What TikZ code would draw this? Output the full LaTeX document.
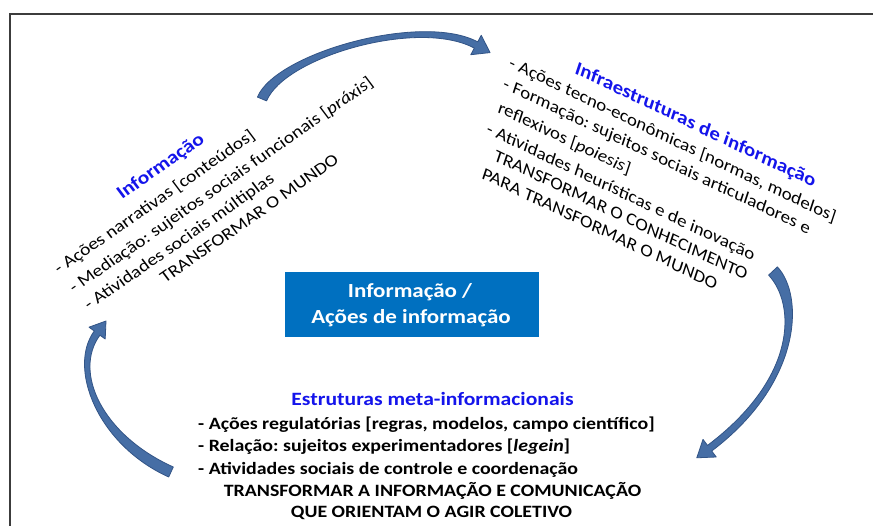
\documentclass[tikz,border=0pt]{standalone}
\usepackage{fontspec}
\setmainfont{Carlito}
\frenchspacing
\definecolor{boxblue}{RGB}{0,112,192}
\definecolor{titleblue}{RGB}{20,20,235}
\definecolor{arrowblue}{RGB}{70,110,165}
\definecolor{arrowedge}{RGB}{50,84,134}
\definecolor{framegray}{RGB}{60,60,60}
\begin{document}
\frenchspacing
\begin{tikzpicture}[x=1pt,y=-1pt,
  frameline/.style={draw=framegray, line width=2pt},
  arrshape/.style={fill=arrowblue, draw=arrowedge, line width=0.8pt, line join=round},
  ltxt/.style={cm={0.944,0.657,-0.6,0.8,(0,0)}, anchor=base west, inner sep=0pt, font=\frenchspacing\fontsize{17}{20}\selectfont},
  lttl/.style={ltxt, font=\bfseries\fontsize{18.6}{22}\selectfont, text=titleblue},
  rtxt/.style={cm={1.038,-0.496,0.316,0.957,(0,0)}, anchor=base west, inner sep=0pt, font=\frenchspacing\fontsize{17}{20}\selectfont},
  rttl/.style={rtxt, font=\bfseries\fontsize{18.6}{22}\selectfont, text=titleblue},
  btxt/.style={xscale=1.15, inner sep=0pt, font=\frenchspacing\bfseries\fontsize{17.3}{20}\selectfont},
  bttl/.style={btxt, font=\bfseries\fontsize{18.8}{22}\selectfont, text=titleblue},
  boxtxt/.style={xscale=1.15, inner sep=0pt, anchor=base, text=white, font=\bfseries\fontsize{20}{24}\selectfont}
]
\useasboundingbox (0,0) rectangle (873,526);
\fill[white] (0,0) rectangle (873,526);
% frame
\draw[frameline] (10,526) -- (10,14) -- (873,14);

% centre box
\node[fill=boxblue, minimum width=254pt, minimum height=65pt, inner sep=0pt] (box) at (412,304.5) {};
\node[boxtxt] (boxt1) at (410,297.3) {Informação /};
\node[boxtxt] (boxt2) at (411,323.3) {Ações de informação};

% left block
\node[lttl] (l0) at (122,200) {Informação};
\node[ltxt] (l1) at (59,275) {- Ações narrativas [conteúdos]};
\node[ltxt] (l2) at (74,294) {- Mediação: sujeitos sociais funcionais [\textit{práxis}]};
\node[ltxt] (l3) at (89,311) {- Atividades sociais múltiplas};
\node[ltxt] (l4) at (165,284) {TRANSFORMAR O MUNDO};

% right block
\node[rttl] (r0) at (574,73) {Infraestruturas de informação};
\node[rtxt] (r1) at (508,67) {- Ações tecno-econômicas [normas, modelos]};
\node[rtxt] (r2) at (502,88) {- Formação: sujeitos sociais articuladores e};
\node[rtxt] (r3) at (497,112) {reflexivos [\textit{poiesis}]};
\node[rtxt] (r4) at (485.5,133) {- Atividades heurísticas e de inovação};
\node[rtxt] (r5) at (493,160) {TRANSFORMAR O CONHECIMENTO};
\node[rtxt] (r6) at (481,178) {PARA TRANSFORMAR O MUNDO};

% bottom block
\node[bttl, anchor=base] (m0) at (432.5,405.7) {Estruturas meta-informacionais};
\node[btxt, anchor=base west] (m1) at (198,429.3) {- Ações regulatórias [regras, modelos, campo científico]};
\node[btxt, anchor=base west] (m2) at (198,451.7) {- Relação: sujeitos experimentadores [\textit{legein}]};
\node[btxt, anchor=base west] (m3) at (198,474) {- Atividades sociais de controle e coordenação};
\node[btxt, anchor=base] (m4) at (432.5,496.7) {TRANSFORMAR A INFORMAÇÃO E COMUNICAÇÃO};
\node[btxt, anchor=base] (m5) at (431.5,517) {QUE ORIENTAM O AGIR COLETIVO};

% curved block arrows (tapered body + head)
% top: Informação -> Infraestruturas
\coordinate (a1tail) at (262,99);
\coordinate (a1tip) at (490.1,52.6);
\draw[arrshape] (257.4,97.1) .. controls (275.4,53.1) and (421.7,11.9) .. (477.7,41.9)
  -- (481.2,35.3) -- (a1tip) -- (470.8,54.7) -- (474.3,48.1)
  .. controls (418.3,18.1) and (284.6,56.9) .. (266.6,100.9) -- cycle;
% right: Infraestruturas -> Estruturas meta-informacionais
\coordinate (a2tail) at (773,271);
\coordinate (a2tip) at (696.8,457.8);
\draw[arrshape] (777.4,266.9) .. controls (804.4,295.9) and (802.1,382.8) .. (711.7,451.0)
  -- (716.2,457.0) -- (a2tip) -- (703.0,439.4) -- (707.5,445.4)
  .. controls (797.9,377.2) and (795.6,304.1) .. (768.6,275.1) -- cycle;
% left: Estruturas meta-informacionais -> Informação
\coordinate (a3tail) at (171,472);
\coordinate (a3tip) at (106,321);
\draw[arrshape] (168.7,477.0) .. controls (97.7,445.0) and (67.2,367.9) .. (94.3,331.0)
  -- (89.0,327.2) -- (a3tip) -- (105.2,339.0) -- (99.9,335.2)
  .. controls (72.8,372.1) and (102.3,435.0) .. (173.3,467.0) -- cycle;
\end{tikzpicture}
\end{document}
